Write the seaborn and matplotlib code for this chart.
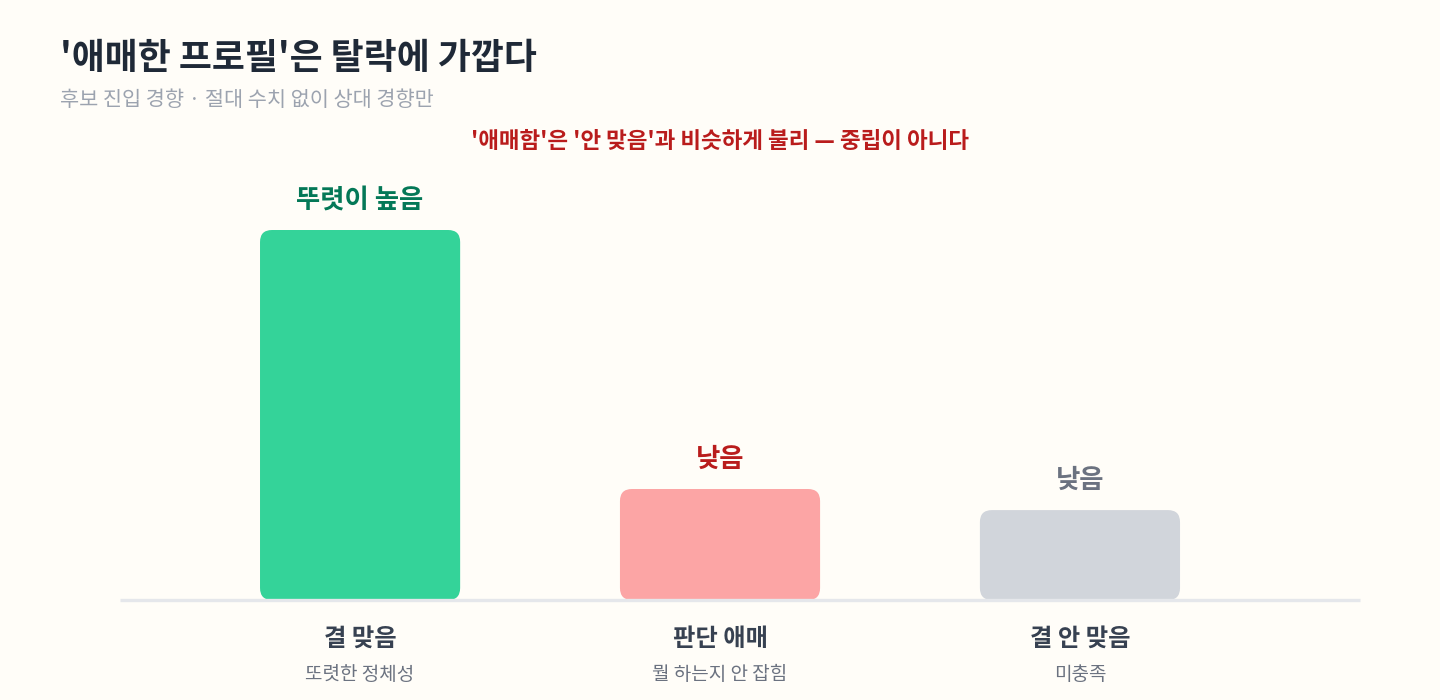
import matplotlib
matplotlib.use("Agg")
import matplotlib.pyplot as plt
from matplotlib.patches import FancyBboxPatch
from matplotlib.transforms import blended_transform_factory, offset_copy
import seaborn as sns
import pandas as pd

# data (relative tendency)
categories = ['결 맞음', '판단 애매', '결 안 맞음']
sub_labels = ['또렷한 정체성', '뭘 하는지 안 잡힘', '미충족']
values = [100, 30, 24.3]
value_labels = ['뚜렷이 높음', '낮음', '낮음']
bar_colors = ['#34d399', '#fca5a5', '#d1d5db']
label_colors = ['#047857', '#b91c1c', '#6b7280']

title = "'애매한 프로필'은 탈락에 가깝다"
subtitle = '후보 진입 경향 · 절대 수치 없이 상대 경향만'
note = "'애매함'은 '안 맞음'과 비슷하게 불리 — 중립이 아니다"

bg = '#fffdf8'
sns.set_style('white')
plt.rcParams['font.family'] = ['Noto Sans CJK KR', 'DejaVu Sans']

df = pd.DataFrame({'cat': categories, 'val': values})

fig = plt.figure(figsize=(14.4, 7), dpi=100, facecolor=bg)
ax = fig.add_axes([120 / 1440, 100 / 700, 1240 / 1440, 370 / 700])
ax.set_facecolor(bg)

sns.barplot(data=df, x='cat', y='val', hue='cat', palette=bar_colors,
            width=0.556, legend=False, ax=ax, saturation=1)

ax.set_xlim(-0.667, 2.778)
ax.set_ylim(0, max(values))

# swap plain bars for rounded ones
x_per_px = (2.778 + 0.667) / 1240
y_per_px = max(values) / 370
for p in list(ax.patches):
    x, y, w, h = p.get_x(), p.get_y(), p.get_width(), p.get_height()
    fc = p.get_facecolor()
    p.remove()
    ax.add_patch(FancyBboxPatch((x, y), w, h,
                                boxstyle=f'round,pad=0,rounding_size={12 * x_per_px}',
                                mutation_aspect=y_per_px / x_per_px,
                                fc=fc, ec='none', clip_on=False, zorder=2))

for s in ['top', 'right', 'left']:
    ax.spines[s].set_visible(False)
ax.spines['bottom'].set_color('#e5e7eb')
ax.spines['bottom'].set_linewidth(2.4)
ax.spines['bottom'].set_capstyle('butt')
ax.spines['bottom'].set_zorder(3)
ax.set_xticks([])
ax.set_yticks([])
ax.set_xlabel('')
ax.set_ylabel('')

# value labels above bars
for i, (v, lab, c) in enumerate(zip(values, value_labels, label_colors)):
    ax.annotate(lab, (i, v), xytext=(0, 21.5), textcoords='offset points',
                ha='center', va='center', fontsize=19, fontweight='bold',
                color=c, annotation_clip=False)

# category labels under baseline
trans = blended_transform_factory(ax.transData, ax.transAxes)
for i, (cat, sub) in enumerate(zip(categories, sub_labels)):
    ax.text(i, 0, cat, transform=offset_copy(trans, fig=fig, y=-39, units='dots'),
            ha='center', va='center', fontsize=17.5, fontweight='bold', color='#374151')
    ax.text(i, 0, sub, transform=offset_copy(trans, fig=fig, y=-75, units='dots'),
            ha='center', va='center', fontsize=13.7, color='#6b7280')

fig.text(60 / 1440, 1 - 59 / 700, title, ha='left', va='center',
         fontsize=25.8, fontweight='heavy', color='#1f2937')
fig.text(60 / 1440, 1 - 100 / 700, subtitle, ha='left', va='center',
         fontsize=15, color='#9ca3af')
fig.text(720 / 1440, 1 - 142 / 700, note, ha='center', va='center',
         fontsize=16.2, fontweight='bold', color='#b91c1c')

fig.savefig('out.png', dpi=100, facecolor=bg)
